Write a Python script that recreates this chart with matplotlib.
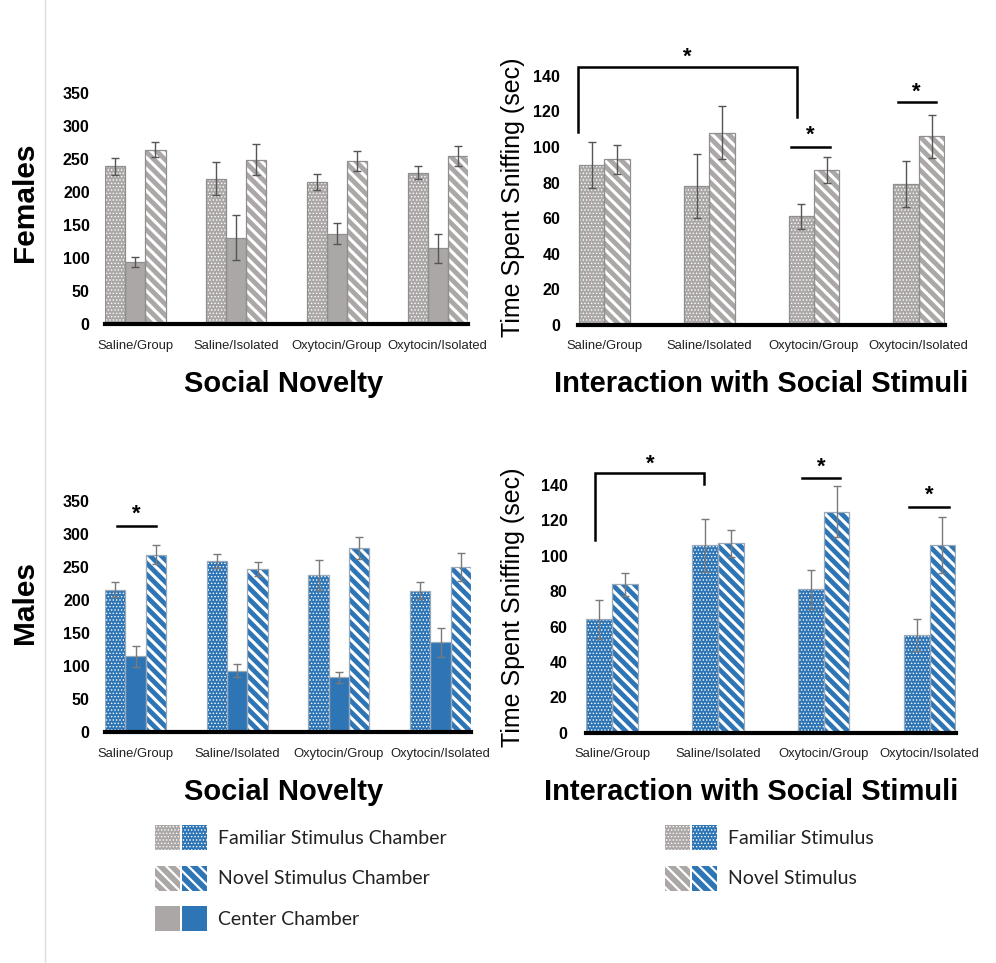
import matplotlib
matplotlib.use("Agg")
import matplotlib.pyplot as plt
from matplotlib.patches import Rectangle

plt.rcParams['font.family'] = ['Liberation Sans', 'DejaVu Sans']

groups = ['Saline/Group', 'Saline/Isolated', 'Oxytocin/Group', 'Oxytocin/Isolated']

# social novelty: time in chamber (sec), mean and sem
fem_nov_familiar = [239, 220, 215, 229]
fem_nov_familiar_err = [13, 25, 12, 10]
fem_nov_center = [94, 131, 137, 115]
fem_nov_center_err = [8, 34, 16, 22]
fem_nov_novel = [264, 249, 247, 254]
fem_nov_novel_err = [11, 23, 15, 15]

male_nov_familiar = [216, 259, 238, 214]
male_nov_familiar_err = [11, 11, 22, 13]
male_nov_center = [115, 93, 83, 136]
male_nov_center_err = [16, 10, 9, 22]
male_nov_novel = [269, 247, 279, 250]
male_nov_novel_err = [15, 10, 17, 21]

# interaction with social stimuli: time spent sniffing (sec)
fem_int_familiar = [90, 78, 61, 79]
fem_int_familiar_err = [13, 18, 7, 13]
fem_int_novel = [93, 108, 87, 106]
fem_int_novel_err = [8, 15, 7.5, 12]

male_int_familiar = [64, 106, 81, 55]
male_int_familiar_err = [11, 15, 11, 9]
male_int_novel = [84, 107, 125, 106]
male_int_novel_err = [6.5, 7.5, 14.5, 16]

GRAY = '#aba7a6'
BLUE = '#2e75b6'
DOTS = '.....'
STRIPES = '\\\\\\'


def hatched_bar(ax, x, h, w, color, hatch, edge, err, ecolor):
    bars = ax.bar(x, h, w, color=color, edgecolor='white' if hatch else color,
                  hatch=hatch, linewidth=0, zorder=2)
    for b in bars:
        b.set_hatch_linewidth(0.6 if hatch == DOTS else 2.2)
    ax.bar(x, h, w, fill=False, edgecolor=edge, linewidth=0.9, zorder=3)
    ax.errorbar(x, h, yerr=err, fmt='none', ecolor=ecolor, elinewidth=1.0,
                capsize=3, capthick=1.0, zorder=4)


def style_axis(ax, top, step, xlim):
    for s in ax.spines.values():
        s.set_visible(False)
    ax.set_xlim(*xlim)
    ax.set_ylim(0, top)
    ax.set_yticks(range(0, top + 1, step))
    ax.set_xticks(range(len(groups)))
    ax.set_xticklabels(groups, fontsize=9.4, color='#222222')
    for t in ax.get_yticklabels():
        t.set_fontweight('bold')
        t.set_fontsize(11.5)
    ax.tick_params(axis='both', length=0)
    ax.tick_params(axis='x', pad=11)
    ax.axhline(0, color='black', linewidth=3, zorder=5, clip_on=False)


def novelty_panel(ax, color, edge, ecolor, fam, fam_e, cen, cen_e, nov, nov_e):
    w = 0.2
    xs = range(len(groups))
    hatched_bar(ax, [x - w for x in xs], fam, w, color, DOTS, edge, fam_e, ecolor)
    hatched_bar(ax, list(xs), cen, w, color, None, edge, cen_e, ecolor)
    hatched_bar(ax, [x + w for x in xs], nov, w, color, STRIPES, edge, nov_e, ecolor)
    style_axis(ax, 350, 50, (-0.3, 3.3))
    ax.tick_params(axis='y', pad=11)


def interaction_panel(ax, color, edge, ecolor, fam, fam_e, nov, nov_e):
    w = 0.243
    xs = range(len(groups))
    hatched_bar(ax, [x - w / 2 for x in xs], fam, w, color, DOTS, edge, fam_e, ecolor)
    hatched_bar(ax, [x + w / 2 for x in xs], nov, w, color, STRIPES, edge, nov_e, ecolor)
    style_axis(ax, 140, 20, (-0.25, 3.25))
    ax.tick_params(axis='y', pad=13)


def star(ax, x, y):
    ax.text(x, y, '*', ha='center', va='center', fontsize=16, fontweight='bold',
            clip_on=False)


def sig_line(ax, x0, x1, y, ys):
    ax.plot([x0, x1], [y, y], color='black', lw=1.8, clip_on=False)
    star(ax, (x0 + x1) / 2, ys)


def bracket(ax, x0, y0, x1, y1, ytop, xs, ys):
    ax.plot([x0, x0, x1, x1], [y0, ytop, ytop, y1], color='black', lw=1.8,
            clip_on=False, solid_joinstyle='miter')
    star(ax, xs, ys)


fig = plt.figure(figsize=(9.96, 9.63), dpi=100)
W, H = 996.0, 963.0


def px_axes(x0, x1, ybot, ytop):
    return fig.add_axes([x0 / W, 1 - ybot / H, (x1 - x0) / W, (ybot - ytop) / H])


ax_fn = px_axes(105, 468, 324.3, 92.7)
ax_fi = px_axes(578.3, 945, 325, 75.7)
ax_mn = px_axes(105, 471, 732.3, 501)
ax_mi = px_axes(585.7, 956, 732.7, 485)

novelty_panel(ax_fn, GRAY, '#8f8f8f', '#555555',
              fem_nov_familiar, fem_nov_familiar_err, fem_nov_center,
              fem_nov_center_err, fem_nov_novel, fem_nov_novel_err)
novelty_panel(ax_mn, BLUE, '#9aa9b8', '#7a7a7a',
              male_nov_familiar, male_nov_familiar_err, male_nov_center,
              male_nov_center_err, male_nov_novel, male_nov_novel_err)
interaction_panel(ax_fi, GRAY, '#8f8f8f', '#555555',
                  fem_int_familiar, fem_int_familiar_err,
                  fem_int_novel, fem_int_novel_err)
interaction_panel(ax_mi, BLUE, '#9aa9b8', '#7a7a7a',
                  male_int_familiar, male_int_familiar_err,
                  male_int_novel, male_int_novel_err)

# significance marks
bracket(ax_fi, -0.25, 108.5, 1.836, 116.6, 144.7, 0.79, 150.5)
sig_line(ax_fi, 1.78, 2.15, 100.2, 106.5)
sig_line(ax_fi, 2.80, 3.16, 125.3, 131)
bracket(ax_mi, -0.165, 108.9, 0.868, 140.3, 146.6, 0.364, 151.5)
sig_line(ax_mi, 1.794, 2.157, 143.7, 150)
sig_line(ax_mi, 2.81, 3.18, 127.7, 134)
sig_line(ax_mn, -0.18, 0.2, 312, 330)

for ax, y in [(ax_fi, 197), (ax_mi, 607)]:
    fig.text(513 / W, 1 - y / H, 'Time Spent Sniffing (sec)', rotation=90,
             ha='center', va='center', fontsize=18)

# panel titles and row labels
for x, y, s in [(284, 384, 'Social Novelty'), (761, 384, 'Interaction with Social Stimuli'),
                (284, 792, 'Social Novelty'), (751, 792, 'Interaction with Social Stimuli')]:
    fig.text(x / W, 1 - y / H, s, ha='center', va='center', fontsize=21,
             fontweight='bold')
fig.text(25 / W, 1 - 202 / H, 'Females', rotation=90, ha='center', va='center',
         fontsize=21.5, fontweight='bold')
fig.text(25 / W, 1 - 603 / H, 'Males', rotation=90, ha='center', va='center',
         fontsize=21.5, fontweight='bold')

# legend keys, laid out in pixel space
lg = fig.add_axes([0, 0, 1, 1], zorder=-1)
lg.set_xlim(0, W)
lg.set_ylim(H, 0)
lg.axis('off')
lg.plot([45, 45], [0, H], color='#dcdcdc', lw=1)


def key(x, y, color, hatch):
    r = Rectangle((x, y), 25, 25, facecolor=color,
                  edgecolor='white' if hatch else color, hatch=hatch, linewidth=0)
    if hatch:
        r.set_hatch_linewidth(0.6 if hatch == DOTS else 1.6)
    lg.add_patch(r)


legend_left = [('Familiar Stimulus Chamber', DOTS), ('Novel Stimulus Chamber', STRIPES),
               ('Center Chamber', None)]
legend_right = [('Familiar Stimulus', DOTS), ('Novel Stimulus', STRIPES)]

for x0, entries in [(155, legend_left), (665, legend_right)]:
    for i, (label, hatch) in enumerate(entries):
        y = 825.5 + i * 40.5
        key(x0, y, GRAY, hatch)
        key(x0 + 26.5, y, BLUE, hatch)
        lg.text(x0 + 63, y + 13, label, ha='left', va='center', fontsize=14,
                family=['Lato', 'DejaVu Sans'], color='#222222')

fig.savefig('out.png', dpi=100)
